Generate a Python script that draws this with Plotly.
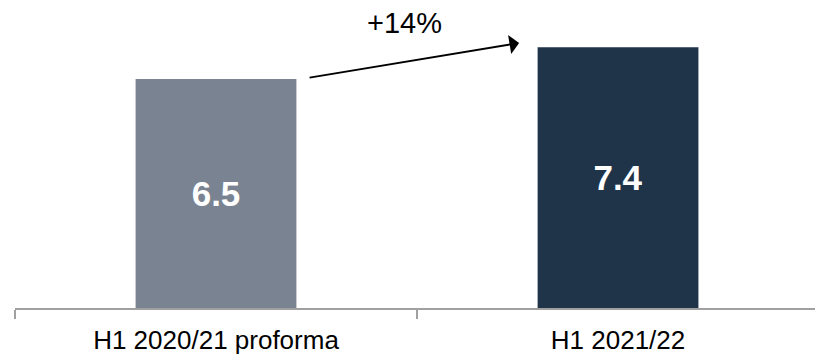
import plotly.graph_objects as go

# Half-year comparison
categories = ["H1 2020/21 proforma", "H1 2021/22"]
values = [6.5, 7.4]
bar_colors = ["#7A8391", "#1F3349"]
growth_label = "+14%"

FONT = "Liberation Sans, Arial, sans-serif"

fig = go.Figure(
    go.Bar(
        x=categories,
        y=values,
        width=0.4,
        marker=dict(color=bar_colors, line=dict(width=0)),
        text=[f"{v:.1f}" for v in values],
        textposition="inside",
        insidetextanchor="middle",
        textfont=dict(family=FONT, size=35, color="white", weight="bold"),
        hoverinfo="skip",
    )
)

# Growth arrow from the first bar's level up towards the second bar
fig.add_annotation(
    xref="x", yref="y", axref="x", ayref="y",
    x=0.754, y=values[1] + 0.12,
    ax=0.229, ay=values[0] + 0.03,
    showarrow=True, arrowhead=1, arrowsize=1.6, arrowwidth=2,
    arrowcolor="black", text="",
)
fig.add_annotation(
    xref="x", yref="paper",
    x=0.47, y=0.925, yanchor="middle", xanchor="center",
    text=growth_label, showarrow=False,
    font=dict(family=FONT, size=29, color="black"),
)

fig.update_layout(
    width=815, height=355,
    margin=dict(l=15, r=0, t=0, b=47),
    paper_bgcolor="white", plot_bgcolor="white",
    showlegend=False,
    bargap=0.6,
    font=dict(family=FONT),
)
fig.update_xaxes(
    type="category",
    range=[-0.5, 1.49],
    showline=True, linecolor="#A0A0A0", linewidth=2,
    ticks="outside", tickson="boundaries", ticklen=9,
    tickcolor="#A0A0A0", tickwidth=2,
    ticklabelstandoff=8,
    tickfont=dict(family=FONT, size=26, color="black"),
    showgrid=False, zeroline=False,
)
fig.update_yaxes(range=[0, 8.74], visible=False, showgrid=False, zeroline=False)

fig.write_html("out.html")
